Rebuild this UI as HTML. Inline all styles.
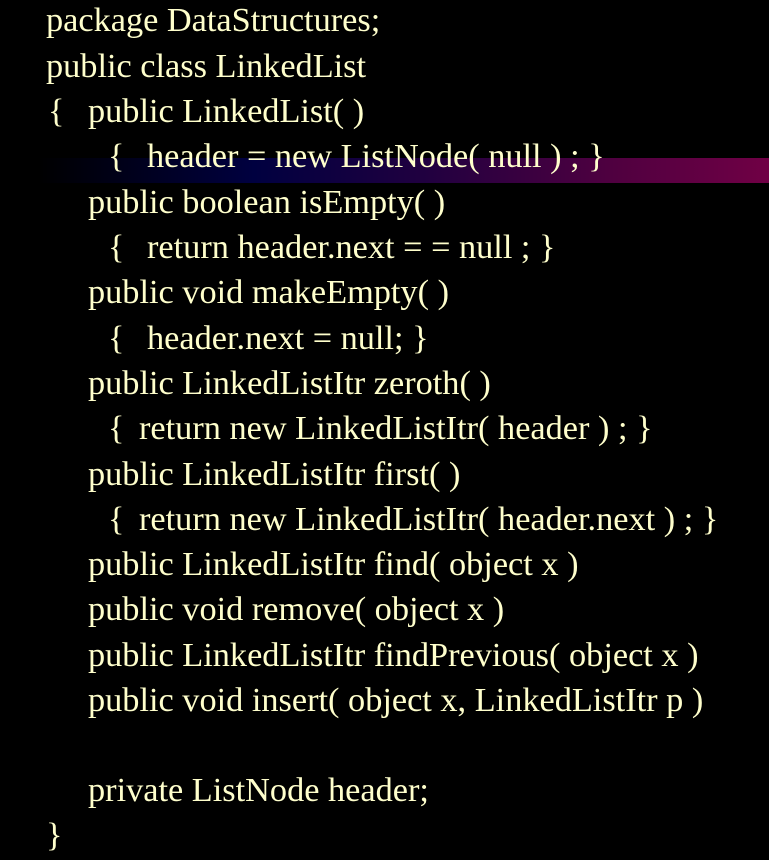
<!DOCTYPE html>
<html><head><style>
html,body{margin:0;padding:0;background:#000;width:769px;height:860px;overflow:hidden;position:relative}
.bar{position:absolute;left:0;top:158px;width:769px;height:25px;background:linear-gradient(to right,#000 5%,#000040 33%,#200040 55%,#500040 80%,#700045 100%)}
.t{position:absolute;font-family:"Liberation Serif",serif;font-size:34.3px;color:#ffffcc;white-space:pre;line-height:36px;margin-top:2px}
</style></head><body>
<div class="bar"></div>
<div class="t" style="left:46px;top:0px">package DataStructures;</div>
<div class="t" style="left:46px;top:46px">public class LinkedList</div>
<div class="t" style="left:48px;top:91px">{</div><div class="t" style="left:88px;top:91px">public LinkedList( )</div>
<div class="t" style="left:108px;top:136px">{</div><div class="t" style="left:147px;top:136px">header = new ListNode( null ) ; }</div>
<div class="t" style="left:88px;top:182px">public boolean isEmpty( )</div>
<div class="t" style="left:108px;top:227px">{</div><div class="t" style="left:147px;top:227px">return header.next = = null ; }</div>
<div class="t" style="left:88px;top:272px">public void makeEmpty( )</div>
<div class="t" style="left:108px;top:318px">{</div><div class="t" style="left:147px;top:318px">header.next = null; }</div>
<div class="t" style="left:88px;top:363px">public LinkedListItr zeroth( )</div>
<div class="t" style="left:108px;top:408px">{</div><div class="t" style="left:139px;top:408px">return new LinkedListItr( header ) ; }</div>
<div class="t" style="left:88px;top:454px">public LinkedListItr first( )</div>
<div class="t" style="left:108px;top:499px">{</div><div class="t" style="left:139px;top:499px">return new LinkedListItr( header.next ) ; }</div>
<div class="t" style="left:88px;top:544px">public LinkedListItr find( object x )</div>
<div class="t" style="left:88px;top:589px">public void remove( object x )</div>
<div class="t" style="left:88px;top:635px">public LinkedListItr findPrevious( object x )</div>
<div class="t" style="left:88px;top:680px">public void insert( object x, LinkedListItr p )</div>
<div class="t" style="left:88px;top:770px">private ListNode header;</div>
<div class="t" style="left:46px;top:815px">}</div>
</body></html>
